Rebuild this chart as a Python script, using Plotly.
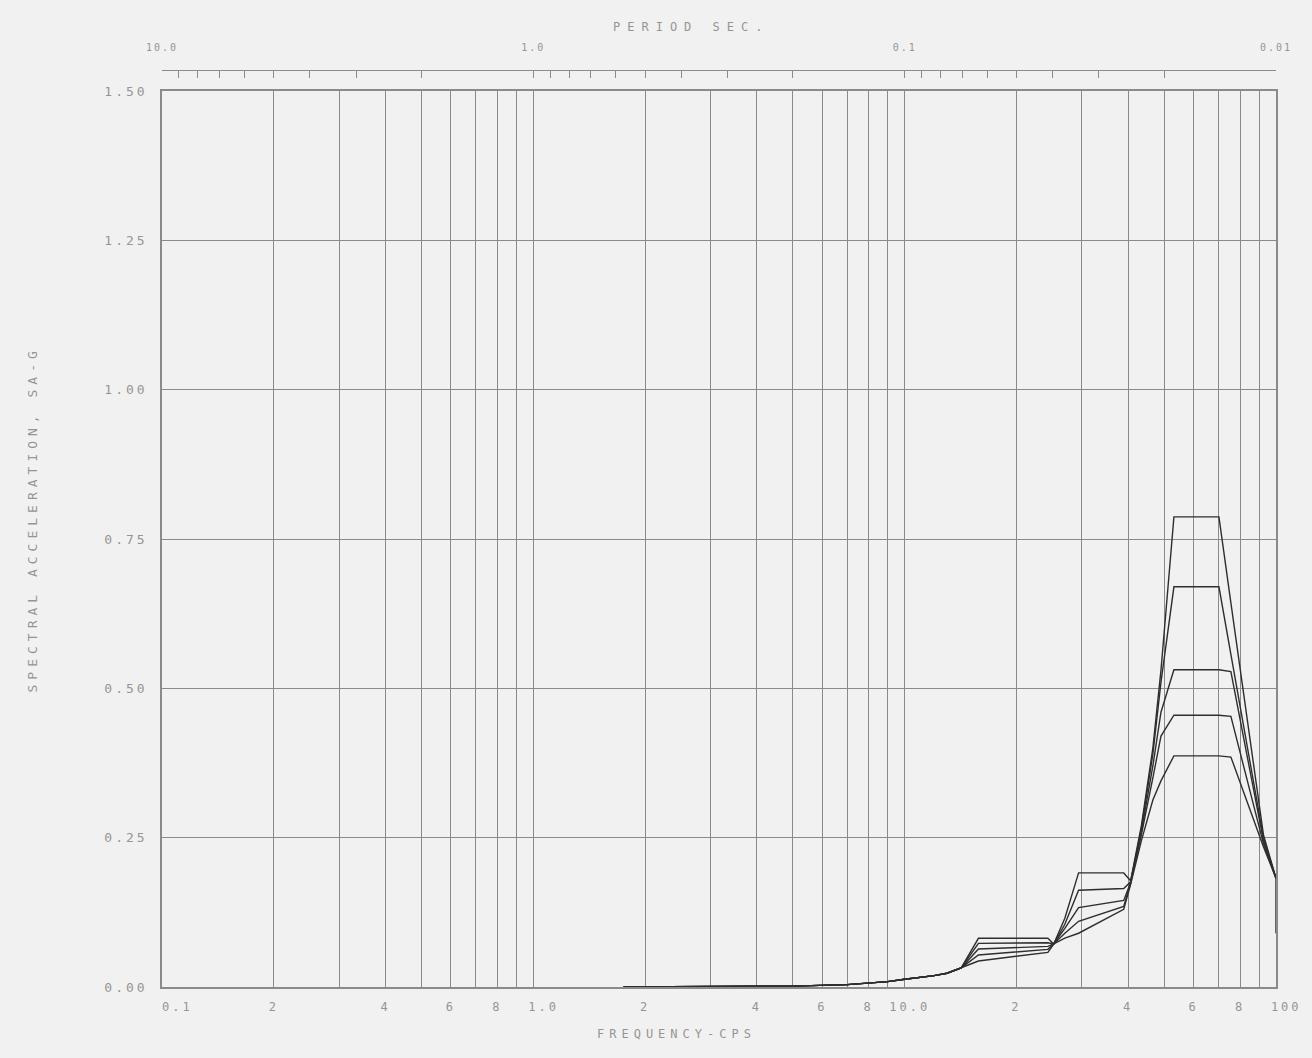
import plotly.graph_objects as go

# ---------------- data ----------------
freq = [1.75, 3.0, 5.0, 7.0, 9.0, 10.0, 11.0, 12.0, 13.0, 14.2, 15.8, 24.3, 25.2,
        27.0, 29.4, 38.9, 40.6, 43.4, 46.6, 49.0, 53.1, 70.2, 75.6, 92.5, 100.0, 100.0]

sa_1 = [0.0, 0.0005, 0.0015, 0.004, 0.009, 0.013, 0.016, 0.019, 0.023, 0.032, 0.0815, 0.0815, 0.072,
        0.115, 0.191, 0.191, 0.178, 0.27, 0.40, 0.53, 0.787, 0.787, 0.643, 0.255, 0.182, 0.182]
sa_2 = [0.0, 0.0005, 0.0015, 0.004, 0.009, 0.013, 0.016, 0.019, 0.023, 0.032, 0.073, 0.074, 0.072,
        0.105, 0.162, 0.165, 0.176, 0.265, 0.39, 0.51, 0.670, 0.670, 0.557, 0.25, 0.182, 0.182]
sa_3 = [0.0, 0.0005, 0.0015, 0.004, 0.009, 0.013, 0.016, 0.019, 0.023, 0.032, 0.0636, 0.068, 0.072,
        0.098, 0.133, 0.145, 0.175, 0.26, 0.37, 0.46, 0.531, 0.531, 0.528, 0.245, 0.182, 0.182]
sa_4 = [0.0, 0.0005, 0.0015, 0.004, 0.009, 0.013, 0.016, 0.019, 0.023, 0.032, 0.0536, 0.063, 0.072,
        0.090, 0.110, 0.135, 0.174, 0.255, 0.35, 0.42, 0.455, 0.455, 0.453, 0.24, 0.182, 0.182]
sa_5 = [0.0, 0.0005, 0.0015, 0.004, 0.009, 0.013, 0.016, 0.019, 0.023, 0.032, 0.0435, 0.058, 0.072,
        0.082, 0.090, 0.130, 0.172, 0.245, 0.313, 0.345, 0.387, 0.387, 0.385, 0.235, 0.182, 0.09]

series = [sa_1, sa_2, sa_3, sa_4, sa_5]

x_tickvals = [0.1, 0.2, 0.3, 0.4, 0.5, 0.6, 0.7, 0.8, 0.9,
              1, 2, 3, 4, 5, 6, 7, 8, 9,
              10, 20, 30, 40, 50, 60, 70, 80, 90, 100]
x_labels = ["0.1", "2", "", "4", "", "6", "", "8", "",
            "1.0", "2", "", "4", "", "6", "", "8", "",
            "10.0", "2", "", "4", "", "6", "", "8", "",
            "100"]
x_label_pad = {"0.1": 3, "1.0": 2, "10.0": 1, "100": 2}

y_tickvals = [0.0, 0.25, 0.50, 0.75, 1.00, 1.25, 1.50]
y_labels = ["0.00", "0.25", "0.50", "0.75", "1.00", "1.25", "1.50"]

period_tickvals = [10, 9, 8, 7, 6, 5, 4, 3, 2,
                   1, 0.9, 0.8, 0.7, 0.6, 0.5, 0.4, 0.3, 0.2,
                   0.1, 0.09, 0.08, 0.07, 0.06, 0.05, 0.04, 0.03, 0.02, 0.01]
period_labels = ["10.0", "", "", "", "", "", "", "", "",
                 "1.0", "", "", "", "", "", "", "", "",
                 "0.1", "", "", "", "", "", "", "", "", "0.01"]

# ---------------- style ----------------
BG = "#f1f1f1"
GRID = "#8a8a8a"
LINE = "#2e2e2e"
TXT = "#959595"
FONT = "DejaVu Sans Mono"


def spaced(s, ls=3, lead=0):
    if s == "":
        return ""
    pad = "\u00a0" * lead
    return f'<span style="letter-spacing:{ls}px">{pad}{s}</span>'


x_ticktext = [spaced(t, 3, x_label_pad.get(t, 0)) for t in x_labels]
y_ticktext = [spaced(t, 3) for t in y_labels]
period_ticktext = [spaced(t, 2) for t in period_labels]

fig = go.Figure()
for s in series:
    fig.add_trace(go.Scatter(x=freq, y=s, mode="lines",
                             line=dict(color=LINE, width=1.4),
                             showlegend=False, hoverinfo="skip"))

# dummy trace to bind the top period axis
fig.add_trace(go.Scatter(x=[10, 0.01], y=[None, None], xaxis="x2", yaxis="y",
                         mode="lines", showlegend=False, hoverinfo="skip"))

W, H = 1312, 1058
PL, PR = 162, 1276
H_PLOT_TOP = 91
H_AXIS_TOP = 70
H_PLOT_BOT = 987
dom_top = (H_PLOT_BOT - H_PLOT_TOP) / (H_PLOT_BOT - H_AXIS_TOP)

pw = PR - PL
ph = H_PLOT_BOT - H_AXIS_TOP


def px_to_paper(px, py):
    return (px - PL) / pw, (H_PLOT_BOT - py) / ph


ax_x, ax_y = px_to_paper(676, 1043)
tx_x, tx_y = px_to_paper(691, 18)
yl_x, yl_y = px_to_paper(22, 520)

fig.update_layout(
    width=W, height=H,
    margin=dict(l=PL, r=W - PR, t=H_AXIS_TOP, b=H - H_PLOT_BOT, autoexpand=False),
    paper_bgcolor=BG, plot_bgcolor=BG,
    font=dict(family=FONT, color=TXT, size=12),
    xaxis=dict(type="log", range=[-1, 2],
               tickmode="array", tickvals=x_tickvals, ticktext=x_ticktext,
               tickangle=0,
               showgrid=True, gridcolor=GRID, gridwidth=1.3,
               showline=True, linecolor=GRID, linewidth=1.5, mirror=True,
               ticks="", zeroline=False, ticklabelstandoff=8,
               tickfont=dict(family=FONT, size=12, color=TXT)),
    yaxis=dict(range=[0, 1.5], domain=[0, dom_top],
               tickmode="array", tickvals=y_tickvals, ticktext=y_ticktext,
               showgrid=True, gridcolor=GRID, gridwidth=1.3,
               showline=True, linecolor=GRID, linewidth=1.5, mirror=True,
               ticks="", zeroline=False, ticklabelstandoff=10,
               tickfont=dict(family=FONT, size=13, color=TXT)),
    xaxis2=dict(type="log", range=[1, -2], overlaying="x", anchor="free",
                position=1, side="top", tickangle=0,
                tickmode="array", tickvals=period_tickvals, ticktext=period_ticktext,
                showgrid=False, showline=True, linecolor="#8a8a8a", linewidth=1,
                ticks="inside", ticklen=7, tickcolor="#8a8a8a", tickwidth=1,
                zeroline=False, ticklabelstandoff=15,
                tickfont=dict(family=FONT, size=10, color=TXT)),
    annotations=[
        dict(text=spaced("FREQUENCY-CPS", 5), x=ax_x, y=ax_y, xref="paper", yref="paper",
             showarrow=False, font=dict(family=FONT, size=12, color=TXT)),
        dict(text=spaced("PERIOD SEC.", 7), x=tx_x, y=tx_y, xref="paper", yref="paper",
             showarrow=False, font=dict(family=FONT, size=12, color=TXT)),
        dict(text=spaced("SPECTRAL ACCELERATION, SA-G", 5), x=yl_x, y=yl_y,
             xref="paper", yref="paper", showarrow=False, textangle=-90,
             font=dict(family=FONT, size=13, color=TXT)),
    ],
)

fig.write_html(
    "out.html",
    config={"displayModeBar": False},
    post_script="document.body.style.margin='0';"
                "document.body.style.background='" + BG + "';"
                "document.documentElement.style.background='" + BG + "';",
)
